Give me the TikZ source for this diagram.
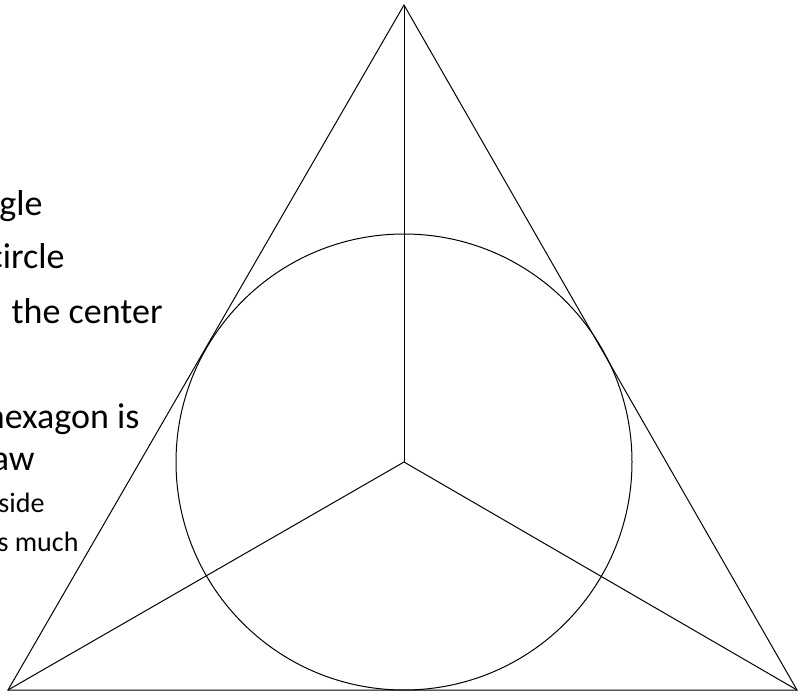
\documentclass[tikz,border=0pt]{standalone}
\usepackage{fontspec}
\setmainfont{Carlito}

\begin{document}
\begin{tikzpicture}[x=0.5pt,y=-0.5pt,line width=0.5pt,
  big/.style={anchor=base east,inner sep=0pt,font=\fontsize{18}{20}\selectfont},
  small/.style={anchor=base east,inner sep=0pt,font=\fontsize{14}{16}\selectfont}]

\useasboundingbox (0,0) rectangle (803,696);
\clip (0,0) rectangle (803,696);

\coordinate (top) at (404,5);
\coordinate (left) at (8,690);
\coordinate (right) at (797,690);
\coordinate (ctr) at (404,462);

\draw (top) -- (left) -- (right) -- cycle;
\draw (ctr) circle[radius=114pt];
\draw (ctr) -- (top);
\draw (ctr) -- (left);
\draw (ctr) -- (right);

\node (t1) [big] at (43,215) {gle};
\node (t2) [big] at (65,268) {circle};
\node (t3) [big] at (163,323) {the center};
\node (t4) [big] at (140,428) {hexagon is};
\node (t5) [big] at (35,470) {aw};
\node (t6) [small] at (45,512) {side};
\node (t7) [small] at (79,551) {s much};

\end{tikzpicture}
\end{document}
